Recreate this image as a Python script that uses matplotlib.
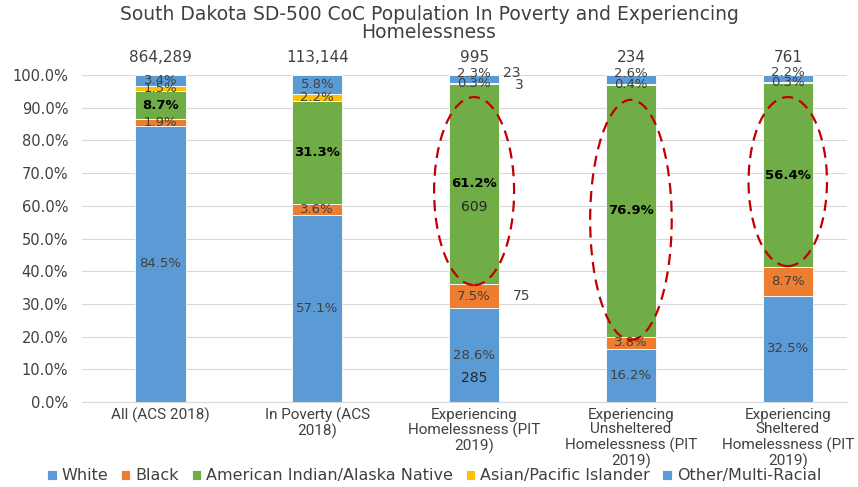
import matplotlib
matplotlib.use('Agg')
import matplotlib.pyplot as plt
from matplotlib.patches import Ellipse
from matplotlib.ticker import FuncFormatter
import numpy as np

plt.rcParams['font.family'] = ['DejaVu Sans']

categories = ['All (ACS 2018)', 'In Poverty (ACS\n2018)',
              'Experiencing\nHomelessness (PIT\n2019)',
              'Experiencing\nUnsheltered\nHomelessness (PIT\n2019)',
              'Experiencing\nSheltered\nHomelessness (PIT\n2019)']
totals = ['864,289', '113,144', '995', '234', '761']

white = [84.5, 57.1, 28.6, 16.2, 32.5]
black = [1.9, 3.6, 7.5, 3.8, 8.7]
aian = [8.7, 31.3, 61.2, 76.9, 56.4]
asian = [1.5, 2.2, 0.3, 0.4, 0.3]
other = [3.4, 5.8, 2.3, 2.6, 2.2]

series = [('White', white, '#5B9BD5'),
          ('Black', black, '#ED7D31'),
          ('American Indian/Alaska Native', aian, '#70AD47'),
          ('Asian/Pacific Islander', asian, '#FFC000'),
          ('Other/Multi-Racial', other, '#5B9BD5')]

# counts for the homelessness bar: (series index, label, x offset, y offset)
counts = [(0, '285', 0.0, -7.0), (1, '75', 0.30, 0.0), (2, '609', 0.0, -7.0),
          (4, '23', 0.24, 2.0), (3, '3', 0.29, -0.5)]

# highlighted ellipses (bar index, center y, width, height)
ellipses = [(2, 64.5, 0.51, 57.5), (3, 55.7, 0.52, 73.4), (4, 67.4, 0.50, 51.7)]

fig = plt.figure(figsize=(8.58, 4.87), dpi=100)
ax = fig.add_axes([0.0956, 0.1745, 0.892, 0.6715])

x = np.arange(len(categories))
bottom = np.zeros(len(categories))
bw = 0.32
for i, (name, vals, col) in enumerate(series):
    vals = np.array(vals)
    ax.bar(x, vals, bw, bottom=bottom, color=col, label=name,
           edgecolor='white', linewidth=0.6, zorder=2)
    for j in range(len(x)):
        txtcol = '#000000' if i == 2 else '#404040'
        dy = 1.8 if (i == 4 and j >= 2) else 0
        ax.text(x[j], bottom[j] + vals[j] / 2 + dy, f'{vals[j]:.1f}%', ha='center', va='center',
                fontsize=9.5, color=txtcol, zorder=4,
                fontweight='bold' if i == 2 else 'normal')
    bottom += vals

# count labels for the homelessness bar
cum = np.cumsum([0] + [s[1][2] for s in series])
for si, lab, dx, dy in counts:
    mid = (cum[si] + cum[si + 1]) / 2
    ax.text(2 + dx, mid + dy, lab, ha='center', va='center', fontsize=10,
            color='#404040' if dx else '#262626', zorder=4)

for j, t in enumerate(totals):
    ax.text(x[j], 105.5, t, ha='center', va='center', fontsize=11, color='#404040',
            clip_on=False)

for bi, cy, w, h in ellipses:
    ax.add_patch(Ellipse((bi, cy), w, h, fill=False, edgecolor='#C00000',
                         linestyle=(0, (5, 3)), linewidth=1.6, zorder=5))

ax.set_xlim(-0.5, 4.38)
ax.set_ylim(0, 100)
ax.set_yticks(np.arange(0, 101, 10))
ax.yaxis.set_major_formatter(FuncFormatter(lambda v, p: f'{v:.1f}%'))
ax.set_xticks(x)
ax.set_xticklabels(categories, fontsize=11, color='#404040', linespacing=1.08,
                   family=['Roboto', 'DejaVu Sans'])
ax.tick_params(axis='y', labelsize=10.5, labelcolor='#404040', length=0, pad=10)
ax.tick_params(axis='x', length=0, pad=4)
ax.grid(axis='y', color='#D9D9D9', linewidth=0.8, zorder=0)
for s in ['top', 'right', 'left']:
    ax.spines[s].set_visible(False)
ax.spines['bottom'].set_color('#D9D9D9')

fig.suptitle('South Dakota SD-500 CoC Population In Poverty and Experiencing\nHomelessness',
             y=0.99, fontsize=13.5, color='#404040', linespacing=0.95)

ax.legend(loc='center', bbox_to_anchor=(0.46, -0.226), ncol=5, frameon=False,
          fontsize=11.5, handlelength=0.6, handleheight=0.6, handletextpad=0.3,
          columnspacing=0.8, labelcolor='#404040')

fig.savefig('out.png', dpi=100)
